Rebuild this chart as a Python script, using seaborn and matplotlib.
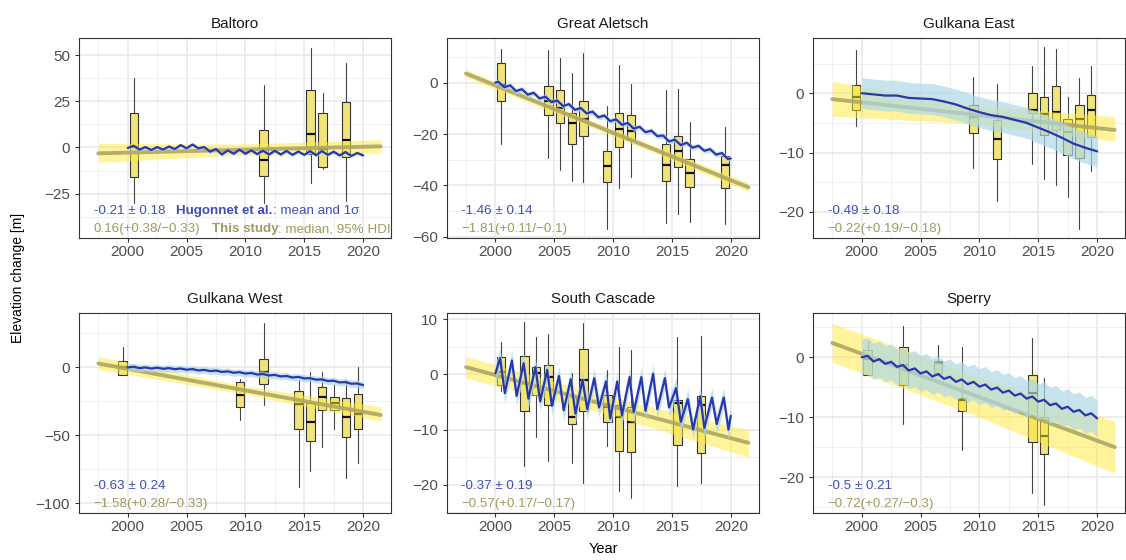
import numpy as np
import pandas as pd
import matplotlib
matplotlib.use("Agg")
import matplotlib.pyplot as plt
from matplotlib.ticker import MultipleLocator, FixedLocator
import seaborn as sns

# ---------------- data ----------------
glaciers = ["Baltoro", "Great Aletsch", "Gulkana East", "Gulkana West", "South Cascade", "Sperry"]

# box statistics: year, whisker low, q1, median, q3, whisker high
baltoro_boxes = [
    (2000.55, -30.0, -15.8, 0.0, 18.7, 37.8),
    (2011.55, -30.0, -15.5, -6.6, 9.4, 34.0),
    (2015.55, -19.5, -3.5, 7.2, 31.0, 53.8),
    (2016.55, -11.5, -10.8, -1.0, 18.7, 29.5),
    (2018.55, -29.0, -5.0, 3.8, 24.8, 45.9),
]
aletsch_boxes = [
    (2000.48, -23.7, -7.3, -1.0, 7.5, 13.2),
    (2004.50, -29.3, -12.5, -7.0, -1.3, 12.5),
    (2005.50, -33.9, -15.7, -10.0, -3.0, 9.7),
    (2006.50, -38.4, -23.7, -15.9, -12.0, 3.8),
    (2007.48, -38.8, -20.8, -14.0, -7.3, 11.6),
    (2009.50, -57.0, -38.8, -32.5, -26.5, -9.3),
    (2010.50, -41.0, -25.1, -18.1, -11.8, 6.7),
    (2011.50, -36.7, -22.4, -19.0, -12.5, -0.4),
    (2014.50, -54.4, -38.3, -32.2, -23.8, -3.0),
    (2015.50, -51.1, -32.8, -26.7, -20.8, -2.5),
    (2016.50, -54.0, -40.7, -35.2, -29.6, -15.2),
    (2019.50, -55.0, -40.9, -32.2, -28.5, -17.1),
]
gulkana_e_boxes = [
    (1999.52, -5.6, -2.8, -0.6, 1.35, 7.3),
    (2009.48, -12.6, -6.7, -4.0, -2.0, 2.8),
    (2011.49, -18.1, -11.1, -7.8, -4.5, 1.5),
    (2014.50, -11.9, -3.4, -2.8, 0.0, 4.6),
    (2015.50, -14.5, -7.0, -3.5, -0.7, 7.7),
    (2016.50, -15.4, -6.2, -3.1, 1.2, 7.4),
    (2017.50, -17.5, -10.4, -6.5, -4.4, -0.7),
    (2018.50, -22.9, -11.0, -4.4, -2.0, 2.5),
    (2019.50, -13.1, -7.4, -2.9, -0.3, 4.6),
]
gulkana_w_boxes = [
    (1999.57, -5.6, -5.6, 0.0, 4.9, 14.7),
    (2009.56, -38.7, -28.9, -20.1, -10.8, -8.8),
    (2011.55, -27.7, -12.3, -3.2, 6.1, 32.8),
    (2014.52, -87.7, -45.6, -27.0, -17.6, -9.3),
    (2015.52, -76.2, -53.9, -40.0, -26.0, -3.2),
    (2016.51, -58.3, -31.4, -21.6, -14.2, -3.2),
    (2017.56, -44.9, -31.4, -26.5, -22.1, -13.0),
    (2018.55, -81.6, -51.5, -36.3, -22.8, -9.3),
    (2019.57, -70.1, -45.6, -34.3, -19.6, 0.0),
]
cascade_boxes = [
    (2000.48, -3.1, -1.9, 0.5, 3.1, 5.8),
    (2002.46, -16.6, -6.6, -1.6, 3.4, 9.4),
    (2003.46, -11.3, -3.8, 0.2, 1.3, 6.8),
    (2004.50, -15.6, -5.6, -0.5, 1.7, 7.3),
    (2006.49, -16.0, -9.0, -7.7, -4.0, 0.2),
    (2007.48, -19.7, -6.7, -1.1, 4.5, 9.2),
    (2009.52, -12.9, -8.6, -6.0, -3.7, 0.7),
    (2010.51, -21.1, -13.8, -7.7, -5.6, 5.0),
    (2011.50, -22.3, -14.1, -8.6, -5.9, 4.4),
    (2015.47, -20.3, -12.8, -5.2, -4.6, 6.8),
    (2017.48, -19.6, -14.3, -5.6, -4.0, 6.9),
]
sperry_boxes = [
    (2000.50, -2.9, -2.9, -0.2, 1.2, 2.8),
    (2003.54, -11.1, -4.6, -1.3, 1.8, 5.2),
    (2006.50, -2.6, -2.6, -1.0, -0.6, 2.1),
    (2008.50, -15.5, -9.0, -7.2, -6.8, 1.8),
    (2014.50, -22.6, -14.2, -5.9, -2.9, 3.2),
    (2015.50, -24.6, -16.1, -13.2, -10.0, -3.5),
]

# Hugonnet et al. elevation change series (mean) and 1-sigma half width
baltoro_hug_t = np.arange(2000.0, 2020.01, 0.5)
baltoro_hug = [-0.3, 0.9, -1.2, 0.2, -1.4, 0.2, -1.2, 0.5, -0.9, 1.3, -0.5, 1.6, -0.5, 0.2,
               -2.3, -0.9, -3.8, -1.6, -3.4, -1.2, -3.4, -1.6, -3.6, -1.8, -3.8, -1.8, -3.8,
               -1.9, -4.0, -2.2, -4.0, -2.0, -4.2, -2.0, -4.0, -2.3, -4.3, -2.5, -4.6, -3.0, -4.3]
aletsch_hug_t = np.concatenate([[2000.0], np.arange(2000.25, 2020.0, 0.5), [2020.0]])
aletsch_hug = [0.0, 0.3, -1.8, -1.1, -3.3, -2.6, -4.7, -4.0, -6.2, -5.5, -7.6, -7.0, -9.1, -8.4,
               -10.6, -9.9, -12.0, -11.3, -13.5, -12.8, -15.0, -14.3, -16.4, -15.7, -17.9, -17.2,
               -19.3, -18.7, -20.8, -20.6, -22.9, -22.2, -24.3, -23.4, -25.3, -24.6, -26.5,
               -25.9, -28.0, -27.4, -29.7, -29.5]
gulkana_e_hug_t = np.arange(2000.0, 2020.01, 1.0)
gulkana_e_hug = [0.0, -0.2, -0.4, -0.4, -0.8, -0.9, -1.0, -1.4, -1.9, -2.6, -3.2, -3.7, -4.0,
                 -4.5, -5.0, -5.8, -6.6, -7.5, -8.5, -9.2, -9.8]
gulkana_w_hug_t = np.arange(2000.0, 2020.01, 0.5)
gulkana_w_hug = [0.0, 0.5, -0.5, 0.0, -0.8, -0.2, -1.0, -0.5, -1.3, -0.8, -1.7, -1.2, -2.2, -1.8,
                 -2.7, -2.3, -3.3, -2.9, -3.9, -3.5, -4.5, -4.1, -5.2, -4.9, -5.9, -5.5, -6.6,
                 -6.3, -7.4, -7.0, -8.1, -7.9, -9.0, -8.8, -10.0, -9.8, -11.0, -10.8, -12.0,
                 -11.8, -13.0]
cascade_hug_t = [2000.0, 2000.4, 2000.8, 2001.4, 2001.8, 2002.4, 2002.8, 2003.4, 2003.8, 2004.4,
                 2004.8, 2005.4, 2005.8, 2006.4, 2006.8, 2007.4, 2007.8, 2008.4, 2008.8, 2009.4,
                 2009.75, 2010.35, 2010.75, 2011.4, 2011.75, 2012.4, 2012.75, 2013.4, 2013.75,
                 2014.4, 2014.75, 2015.35, 2015.75, 2016.35, 2016.8, 2017.4, 2017.75, 2018.4,
                 2018.8, 2019.4, 2019.8, 2020.0]
cascade_hug = [0.2, 2.9, -3.4, 2.5, -3.9, 2.0, -4.4, 1.3, -4.9, 0.8, -5.7, -0.3, -6.5, -0.9,
               -7.1, -1.0, -6.3, -0.7, -6.0, -1.3, -8.0, -1.3, -7.4, -0.5, -6.8, -0.5, -6.6,
               0.1, -6.3, -0.7, -6.0, -2.5, -8.6, -4.5, -10.0, -4.0, -9.7, -4.2, -9.0, -4.2,
               -10.0, -7.5]
sperry_hug_t = np.arange(2000.0, 2020.01, 0.5)
sperry_hug = [0.0, 0.25, -0.7, -0.3, -1.1, -0.75, -1.6, -1.3, -2.2, -1.85, -2.7, -2.35, -3.2,
              -2.8, -3.6, -3.25, -4.1, -3.7, -4.5, -4.1, -4.9, -4.55, -5.4, -5.05, -5.9, -5.55,
              -6.4, -6.05, -6.9, -6.55, -7.4, -7.1, -8.0, -7.7, -8.6, -8.25, -9.1, -8.8, -9.7,
              -9.35, -10.2]
hug_sigma = [1.0, 1.1, 2.6, 2.6, 1.8, 3.0]

# This study: linear trend, median and 95% HDI band
trend_t = [1997.5, 2009.5, 2021.5]
baltoro_trend = [-3.2, -1.3, 0.6]
baltoro_lo = [-8.0, -4.2, -3.0]
baltoro_hi = [2.2, 1.8, 4.2]
aletsch_trend = [3.5, -18.6, -40.7]
aletsch_lo = [2.0, -19.9, -42.4]
aletsch_hi = [5.0, -17.3, -39.0]
gulkana_e_trend = [-1.0, -3.6, -6.2]
gulkana_e_lo = [-3.9, -5.1, -8.1]
gulkana_e_hi = [2.0, -2.1, -3.9]
gulkana_w_trend = [2.9, -16.1, -35.0]
gulkana_w_lo = [-1.5, -19.0, -39.5]
gulkana_w_hi = [8.0, -13.0, -29.0]
cascade_trend = [1.3, -5.6, -12.4]
cascade_lo = [-0.7, -7.2, -15.0]
cascade_hi = [3.2, -4.0, -10.1]
sperry_trend = [2.4, -6.3, -15.0]
sperry_lo = [-0.8, -9.6, -19.4]
sperry_hi = [5.7, -3.0, -10.7]

hug_rate = ["-0.21 \u00b1 0.18", "-1.46 \u00b1 0.14", "-0.49 \u00b1 0.18",
            "-0.63 \u00b1 0.24", "-0.37 \u00b1 0.19", "-0.5 \u00b1 0.21"]
study_rate = ["0.16(+0.38/\u22120.33)", "\u22121.81(+0.11/\u22120.1)", "\u22120.22(+0.19/\u22120.18)",
              "\u22121.58(+0.28/\u22120.33)", "\u22120.57(+0.17/\u22120.17)", "\u22120.72(+0.27/\u22120.3)"]

boxes = [baltoro_boxes, aletsch_boxes, gulkana_e_boxes, gulkana_w_boxes, cascade_boxes, sperry_boxes]
hug_t = [baltoro_hug_t, aletsch_hug_t, gulkana_e_hug_t, gulkana_w_hug_t, cascade_hug_t, sperry_hug_t]
hug_v = [baltoro_hug, aletsch_hug, gulkana_e_hug, gulkana_w_hug, cascade_hug, sperry_hug]
trends = [baltoro_trend, aletsch_trend, gulkana_e_trend, gulkana_w_trend, cascade_trend, sperry_trend]
trend_lo = [baltoro_lo, aletsch_lo, gulkana_e_lo, gulkana_w_lo, cascade_lo, sperry_lo]
trend_hi = [baltoro_hi, aletsch_hi, gulkana_e_hi, gulkana_w_hi, cascade_hi, sperry_hi]

# ---------------- style / layout ----------------
ylims = [(-49, 59.2), (-60.4, 17.3), (-24.4, 9.3), (-107, 40), (-25.1, 11.1), (-26, 7.4)]
ysteps = [25, 20, 10, 50, 10, 10]
XLIM = (1995.86, 2022.37)

BOX_FILL = "#F0E47A"
YEL_BAND = "#FFEB3B"
OLIVE = "#ADA766"
BLUE = "#2A36AE"
BLUE_BAND = "#ADD8E6"
BLUE_TXT = "#3E4DBA"
OLIVE_TXT = "#9F9A5E"
EDGE = "#333333"

sns.set_theme(style="white")
plt.rcParams['font.family'] = ['Liberation Sans', 'DejaVu Sans']
plt.rcParams['axes.unicode_minus'] = True

W, H = 1126, 560
fig = plt.figure(figsize=(W / 100, H / 100), dpi=100, facecolor="white")
col_left = [79, 446.7, 813]
row_top = [38, 313]
PW, PH = 312, 200
ANN = 9.6

for i, name in enumerate(glaciers):
    r, c = divmod(i, 3)
    ax = fig.add_axes([col_left[c] / W, 1 - (row_top[r] + PH) / H, PW / W, PH / H])
    ax.set_facecolor("white")

    # boxes
    stats = [dict(med=b[3], q1=b[2], q3=b[4], whislo=b[1], whishi=b[5]) for b in boxes[i]]
    pos = [b[0] for b in boxes[i]]
    ax.bxp(stats, positions=pos, widths=0.72, patch_artist=True, showfliers=False,
           showcaps=False, manage_ticks=False, zorder=2,
           boxprops=dict(facecolor=BOX_FILL, edgecolor=EDGE, linewidth=0.8),
           whiskerprops=dict(color="#444444", linewidth=0.8),
           medianprops=dict(color="#111111", linewidth=1.6, solid_capstyle="butt"))

    # this study trend + HDI band
    ax.fill_between(trend_t, trend_lo[i], trend_hi[i], color=YEL_BAND, alpha=0.5,
                    linewidth=0, zorder=3)
    sns.lineplot(x=trend_t, y=trends[i], ax=ax, color=OLIVE, linewidth=2.8, alpha=0.9,
                 zorder=4)

    # Hugonnet series + sigma band
    ht = np.asarray(hug_t[i], dtype=float)
    hv = np.asarray(hug_v[i], dtype=float)
    ax.fill_between(ht, hv - hug_sigma[i], hv + hug_sigma[i], color=BLUE_BAND, alpha=0.68,
                    linewidth=0, zorder=5)
    sns.lineplot(x=ht, y=hv, ax=ax, color=BLUE, linewidth=1.6, zorder=6)

    # axes cosmetics
    ax.set_xlim(*XLIM)
    ax.set_ylim(*ylims[i])
    ax.xaxis.set_major_locator(FixedLocator([2000, 2005, 2010, 2015, 2020]))
    ax.xaxis.set_minor_locator(FixedLocator([1997.5, 2002.5, 2007.5, 2012.5, 2017.5]))
    ax.yaxis.set_major_locator(MultipleLocator(ysteps[i]))
    ax.yaxis.set_minor_locator(MultipleLocator(ysteps[i] / 2))
    ax.grid(which="major", color="#E8E8E8", linewidth=1.1, zorder=0)
    ax.grid(which="minor", color="#EDEDED", linewidth=0.6, zorder=0)
    ax.set_axisbelow(True)
    for sp in ax.spines.values():
        sp.set_color(EDGE)
        sp.set_linewidth(0.8)
        sp.set_visible(True)
    ax.tick_params(which="major", length=3, width=0.8, color=EDGE, labelcolor="#4D4D4D",
                   labelsize=11, bottom=True, left=True)
    ax.tick_params(axis="x", pad=2)
    ax.tick_params(axis="y", pad=3.5)
    ax.tick_params(which="minor", length=0)
    ax.set_xlabel("")
    ax.set_ylabel("")
    ax.set_title(name, fontsize=11, color="#1A1A1A", pad=7.5)

    # annotations
    t1 = ax.text(0.047, 0.1185, hug_rate[i], transform=ax.transAxes, color=BLUE_TXT,
                 fontsize=ANN, ha="left", va="baseline", zorder=10)
    t4 = ax.text(0.047, 0.03, study_rate[i], transform=ax.transAxes, color=OLIVE_TXT,
                 fontsize=ANN, ha="left", va="baseline", zorder=10)
    if i == 0:
        t2 = ax.annotate("Hugonnet et al.", xy=(1, 0), xycoords=t1, xytext=(8, 0),
                         textcoords="offset points", color=BLUE_TXT, fontsize=ANN,
                         fontweight="bold", ha="left", va="bottom", zorder=10)
        ax.annotate(": mean and 1\u03c3", xy=(1, 0), xycoords=t2, color=BLUE_TXT,
                    fontsize=ANN, ha="left", va="bottom", zorder=10)
        t5 = ax.annotate("This study", xy=(1, 0), xycoords=t4, xytext=(8, 0),
                         textcoords="offset points", color=OLIVE_TXT, fontsize=ANN,
                         fontweight="bold", ha="left", va="bottom", zorder=10)
        ax.annotate(": median, 95% HDI", xy=(1, 0), xycoords=t5, color=OLIVE_TXT,
                    fontsize=ANN, ha="left", va="bottom", zorder=10)

fig.text(18 / W, 1 - 278 / H, "Elevation change [m]", rotation=90, ha="center",
         va="center", fontsize=10, color="black")
fig.text(603 / W, 1 - 549 / H, "Year", ha="center", va="center", fontsize=10.5,
         color="black")

fig.savefig("out.png", dpi=100, facecolor="white")
